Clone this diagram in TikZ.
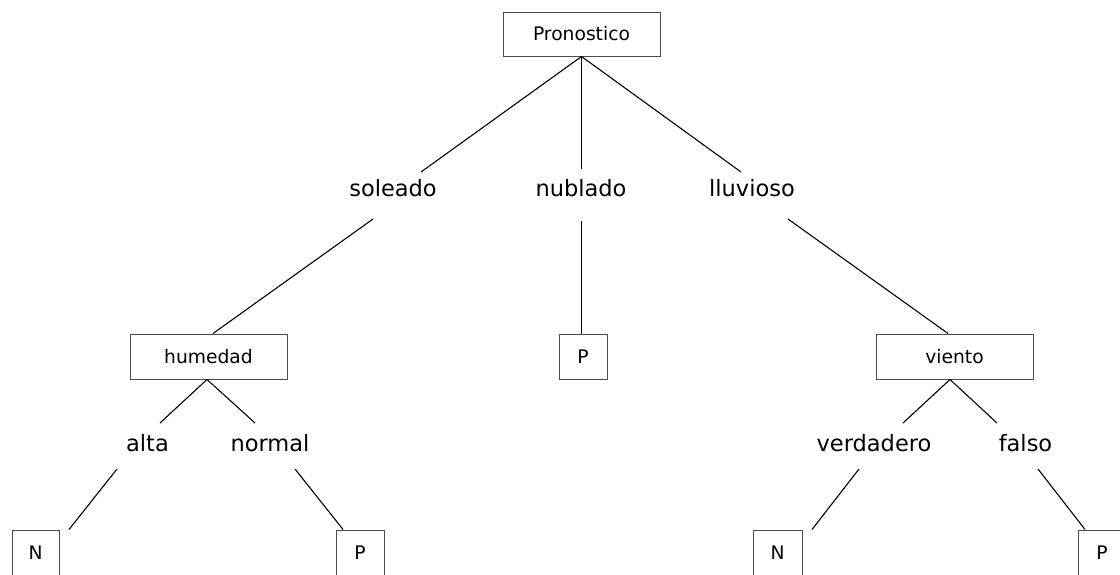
\documentclass[tikz,border=0pt]{standalone}
\usepackage{fontspec}
\setmainfont{DejaVu Sans}
\tikzset{
  box/.style={draw=black!70, line width=1pt, fill=white, inner sep=0pt,
    minimum height=45pt, font=\fontsize{18.7}{22}\selectfont},
  lbl/.style={anchor=base, inner sep=0pt, font=\fontsize{22.5}{27}\selectfont},
  edge/.style={draw=black, line width=1.1pt}
}
\begin{document}
\begin{tikzpicture}[x=1pt,y=-1pt]
\useasboundingbox[fill=white] (0,0) rectangle (1120,574);
% boxes
\node[box, minimum width=157pt, minimum height=44pt] (root) at (581.5,34) {Pronostico};
\node[box, minimum width=157pt] (hum) at (208.5,356.5) {humedad};
\node[box, minimum width=48pt] (pm) at (583,356.5) {P};
\node[box, minimum width=157pt] (vie) at (954.5,356.5) {viento};
\node[box, minimum width=47pt] (n1) at (35.5,552.5) {N};
\node[box, minimum width=48pt] (p1) at (360,552.5) {P};
\node[box, minimum width=49pt] (n2) at (777.5,552.5) {N};
\node[box, minimum width=48pt] (p2) at (1102,552.5) {P};
% labels
\node[lbl] (sol) at (393,196) {soleado};
\node[lbl] (nub) at (581,196) {nublado};
\node[lbl] (llu) at (752,196) {lluvioso};
\node[lbl] (alt) at (147.5,451) {alta};
\node[lbl] (nor) at (270,451) {normal};
\node[lbl] (ver) at (874,451) {verdadero};
\node[lbl] (fal) at (1025.5,451) {falso};
% connector break points
\coordinate (solt) at (421,172);
\coordinate (solb) at (373,219);
\coordinate (nubt) at (581.5,169);
\coordinate (nubb) at (581.5,221);
\coordinate (llut) at (741,172);
\coordinate (llub) at (788,219);
\coordinate (altt) at (160,423);
\coordinate (altb) at (117,469);
\coordinate (nort) at (255,423);
\coordinate (norb) at (295,469);
\coordinate (vert) at (903,423);
\coordinate (verb) at (859,469);
\coordinate (falt) at (997,423);
\coordinate (falb) at (1038,469);
% connectors
\draw[edge] (root.south) -- (solt);
\draw[edge] (solb) -- ([xshift=4.5pt]hum.north);
\draw[edge] (root.south) -- (nubt);
\draw[edge] (nubb) -- ([xshift=-1.5pt]pm.north);
\draw[edge] (root.south) -- (llut);
\draw[edge] (llub) -- ([xshift=-6.5pt]vie.north);
\draw[edge] ([xshift=-1.5pt]hum.south) -- (altt);
\draw[edge] (altb) -- ([xshift=33.5pt]n1.north);
\draw[edge] ([xshift=-1.5pt]hum.south) -- (nort);
\draw[edge] (norb) -- ([xshift=-17pt]p1.north);
\draw[edge] ([xshift=-4.5pt]vie.south) -- (vert);
\draw[edge] (verb) -- ([xshift=34.5pt]n2.north);
\draw[edge] ([xshift=-4.5pt]vie.south) -- (falt);
\draw[edge] (falb) -- ([xshift=-17pt]p2.north);
\end{tikzpicture}
\end{document}
